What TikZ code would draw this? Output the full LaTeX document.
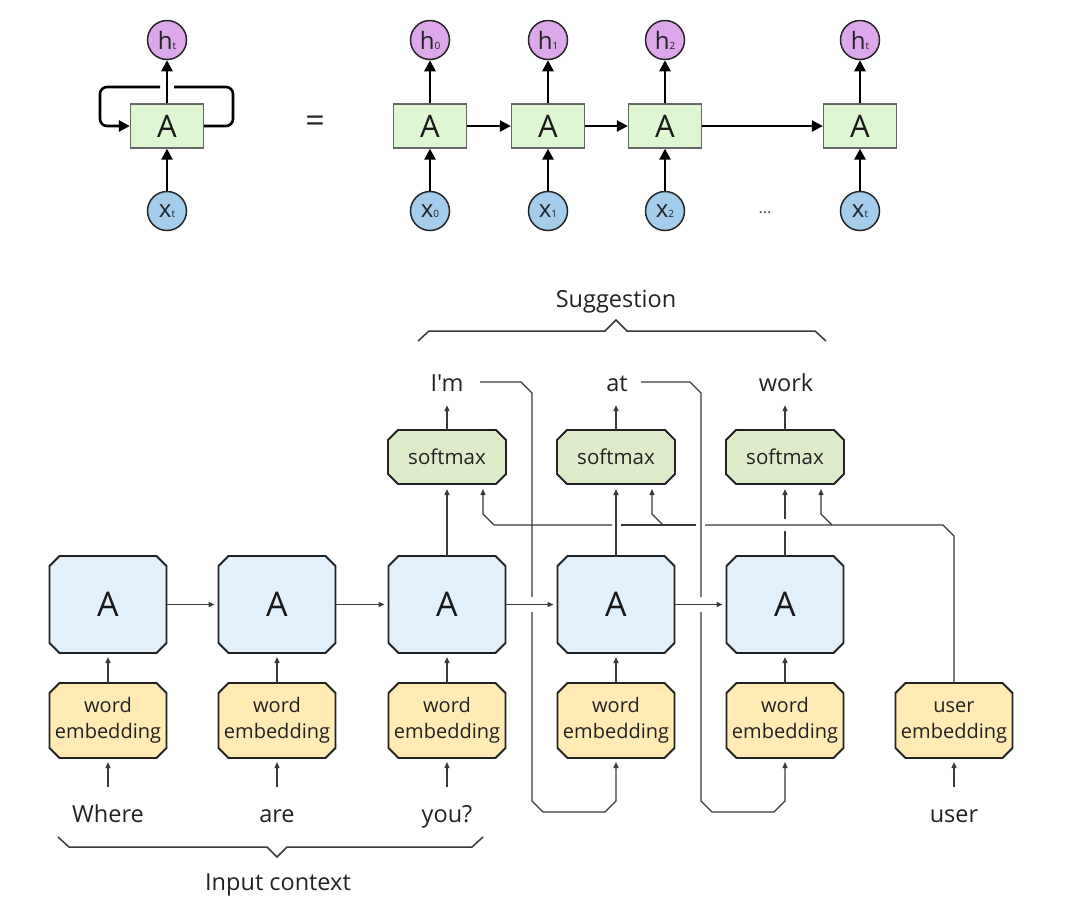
\documentclass[tikz,border=0pt]{standalone}
\usepackage{fontspec}
\setmainfont{Open Sans}
\usetikzlibrary{arrows.meta,backgrounds}
\definecolor{hfill}{HTML}{DCA8EA}
\definecolor{xfill}{HTML}{A3CDEB}
\definecolor{topA}{HTML}{DFF6D3}
\definecolor{botA}{HTML}{E2F0FC}
\definecolor{emb}{HTML}{FFEBB3}
\definecolor{soft}{HTML}{DEEBC9}
\definecolor{ln}{HTML}{3A3A3A}
\definecolor{boxln}{HTML}{222222}
\definecolor{txt}{HTML}{222222}
\newcommand{\hsym}[1]{{\fontsize{24}{24}\selectfont h}{\fontsize{10}{10}\selectfont #1}}
\newcommand{\xsym}[1]{{\fontsize{24}{24}\selectfont x}{\fontsize{10}{10}\selectfont #1}}
\newcommand{\octo}[2]{%
  \path[draw=boxln, line width=1.8pt, fill=#2]
    ([xshift=10pt]#1.north west) -- ([xshift=-10pt]#1.north east) --
    ([yshift=-10pt]#1.north east) -- ([yshift=10pt]#1.south east) --
    ([xshift=-10pt]#1.south east) -- ([xshift=10pt]#1.south west) --
    ([yshift=10pt]#1.south west) -- ([yshift=-10pt]#1.north west) -- cycle;}
\tikzset{
  topline/.style={line width=2.6pt, black},
  toparr/.style={topline, -{Triangle[length=11pt,width=11pt]}},
  circ/.style={circle, draw=black!85, line width=1.5pt, minimum size=39pt, inner sep=0pt, text=txt},
  topbox/.style={rectangle, draw=black!60, line width=1.3pt, fill=topA, minimum width=73pt, minimum height=44pt, inner sep=0pt, font=\fontsize{31}{31}\selectfont, text=black!90},
  abox/.style={minimum width=117pt, minimum height=97pt, inner sep=0pt, outer sep=0pt, font=\fontsize{34}{34}\selectfont, text=black!90},
  ebox/.style={minimum width=117pt, minimum height=75pt, inner sep=0pt, outer sep=0pt, align=center, font=\fontsize{20}{26}\selectfont, text=txt},
  sbox/.style={minimum width=118pt, minimum height=54pt, inner sep=0pt, outer sep=0pt, font=\fontsize{20.5}{20.5}\selectfont, text=txt},
  lbl/.style={inner sep=0pt, text height=17pt, text depth=5pt, font=\fontsize{23.5}{23.5}\selectfont, text=txt},
  thinln/.style={line width=1.3pt, draw=ln},
  thinarr/.style={thinln, -{Triangle[length=6pt,width=5pt]}},
  brace/.style={line width=1.5pt, draw=ln}
}
\begin{document}
\begin{tikzpicture}[x=1pt,y=-1pt]
\useasboundingbox (0,0) rectangle (1088,906);

% ---------- top: folded RNN ----------
\node[circ, fill=hfill] (hL) at (167,40) {\hsym{t}};
\node[topbox] (AL) at (167,126) {A};
\node[circ, fill=xfill] (xL) at (167,211) {\xsym{t}};
\draw[toparr] (xL.north) -- (AL.south);
\draw[toparr] (AL.north) -- (hL.south);
\coordinate (loopR1) at (233,126);
\coordinate (loopR2) at (233,87);
\coordinate (loopGapR) at (174,87);
\coordinate (loopGapL) at (160,87);
\coordinate (loopL1) at (100,87);
\coordinate (loopL2) at (100,126);
\draw[topline, rounded corners=7pt] (AL.east) -- (loopR1) -- (loopR2) -- (loopGapR);
\draw[toparr, rounded corners=7pt] (loopGapL) -- (loopL1) -- (loopL2) -- (AL.west);

\node[text=black!85, font=\fontsize{34}{34}\selectfont] (eq) at (315,124) {=};

% ---------- top: unrolled RNN ----------
\foreach \i/\x/\s in {0/430/0,1/548/1,2/665/2,3/860/t}{
  \node[circ, fill=hfill] (h\i) at (\x,40) {\hsym{\s}};
  \node[topbox] (T\i) at (\x,126) {A};
  \node[circ, fill=xfill] (x\i) at (\x,211) {\xsym{\s}};
  \draw[toparr] (x\i.north) -- (T\i.south);
  \draw[toparr] (T\i.north) -- (h\i.south);
}
\draw[toparr] (T0.east) -- (T1.west);
\draw[toparr] (T1.east) -- (T2.west);
\draw[toparr] (T2.east) -- (T3.west);
\node[text=black!70, font=\fontsize{16}{16}\selectfont] (dots) at (765,213) {...};

% ---------- bottom: suggestion model ----------
\foreach \i/\x in {1/108,2/277,3/447,4/616,5/785}{
  \node[abox] (a\i) at (\x,604.5) {A};
  \node[ebox] (e\i) at (\x,720.5) {word\\embedding};
}
\node[ebox] (e6) at (954,720.5) {\vphantom{d}user\\embedding};
\node[sbox] (s3) at (447,457) {softmax};
\node[sbox] (s4) at (616,457) {softmax};
\node[sbox] (s5) at (785,457) {softmax};

\begin{scope}[on background layer]
  \fill[white] (0,0) rectangle (1088,906);
  \foreach \i in {1,...,5}{\octo{a\i}{botA}}
  \foreach \i in {1,...,6}{\octo{e\i}{emb}}
  \foreach \i in {3,4,5}{\octo{s\i}{soft}}
\end{scope}

\node[lbl, anchor=base] (w1) at (108,822) {Where};
\node[lbl, anchor=base] (w2) at (277,822) {are};
\node[lbl, anchor=base] (w3) at (447,822) {you?};
\node[lbl, anchor=base] (w6) at (954,822) {user};
\node[lbl, anchor=base] (o3) at (447,391) {\addfontfeatures{Ligatures=TeXOff}I'm};
\node[lbl, anchor=base] (o4) at (617,391) {at};
\node[lbl, anchor=base] (o5) at (786,391) {work};
\node[lbl, anchor=base] (sugg) at (616,307) {Suggestion};
\node[lbl, anchor=base] (ctx) at (278,890) {Input context};

% braces
\draw[brace] (418,341) -- (429,331) -- (605,331) -- (616,320) -- (627,331) -- (815,331) -- (826,341);
\draw[brace] (58,837) -- (69,847) -- (267,847) -- (277,857) -- (287,847) -- (472,847) -- (483,837);

% words -> embeddings
\foreach \i in {1,2,3,6}{
  \draw[thinarr, shorten <=18pt, shorten >=4pt] (e\i.south |- w\i.north) -- (e\i.south);
}
% embeddings -> A
\foreach \i in {1,...,5}{
  \draw[thinarr, shorten >=4pt] (e\i.north) -- (a\i.south);
}
% A -> A
\draw[thinarr, shorten >=4pt] (a1.east) -- (a2.west);
\draw[thinarr, shorten >=4pt] (a2.east) -- (a3.west);
\draw[thinarr, shorten >=4pt] (a3.east) -- (a4.west);
\draw[thinarr, shorten >=4pt] (a4.east) -- (a5.west);
% A -> softmax
\draw[thinarr, shorten >=5pt] (a3.north) -- (s3.south);
\draw[thinarr, shorten >=5pt] (a4.north) -- (s4.south);
\coordinate (g5lo) at (785,531);
\coordinate (g5hi) at (785,519);
\draw[thinln] (a5.north) -- (g5lo);
\draw[thinarr, shorten >=5pt] (g5hi) -- (s5.south);
% softmax -> output words
\foreach \i in {3,4,5}{
  \draw[thinarr, shorten >=9pt] (s\i.north) -- (s\i.north |- o\i.south);
}
% feedback: I'm -> next input
\coordinate (f1s) at (480,382);
\draw[thinln] (f1s) -- (521,382) -- (532,393) -- (532,597);
\draw[thinarr, shorten >=4pt] (532,612) -- (532,801) -- (543,812) -- (605,812) -- (616,801) -- (e4.south);
% feedback: at -> next input
\coordinate (f2s) at (641,382);
\draw[thinln] (f2s) -- (690,382) -- (701,393) -- (701,597);
\draw[thinarr, shorten >=4pt] (701,612) -- (701,801) -- (712,812) -- (774,812) -- (785,801) -- (e5.south);
% user embedding -> softmaxes
\draw[thinln] (e6.north) -- (954,536) -- (943,525) -- (705,525);
\draw[thinln] (696,525) -- (621,525);
\draw[thinarr, shorten >=5pt] (612,525) -- (494,525) -- (483,514) -- ([xshift=36pt]s3.south);
\draw[thinarr, shorten >=5pt] (663,525) -- (652,514) -- ([xshift=36pt]s4.south);
\draw[thinarr, shorten >=5pt] (832,525) -- (821,514) -- ([xshift=36pt]s5.south);
\end{tikzpicture}
\end{document}
